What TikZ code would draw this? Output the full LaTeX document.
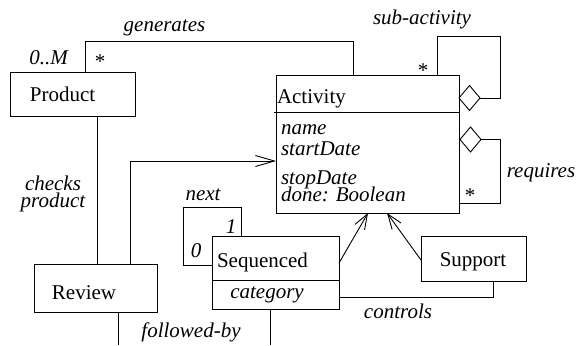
\documentclass[tikz,border=0pt]{standalone}
\usepackage{fontspec}
\setmainfont{Liberation Serif}
\usetikzlibrary{shapes.geometric,arrows.meta}
\begin{document}
% keep the fixed baseline distance of stacked lines even when glyphs touch
\lineskiplimit=-30pt
\begin{tikzpicture}[x=1pt,y=-1pt,
  line width=0.9pt,
  every node/.style={font=\fontsize{21}{24}\selectfont, inner sep=0pt, outer sep=0pt},
  classbox/.style={draw, anchor=north west, minimum width=#1},
  lbl/.style={anchor=base, font=\fontsize{21}{24}\selectfont\itshape},
  txt/.style={anchor=base},
  attr/.style={anchor=base west, align=left, font=\fontsize{21}{#1}\selectfont\itshape},
  agg/.style={draw, fill=white, diamond, aspect=0.85, minimum width=21pt, minimum height=25pt},
  navarrow/.style={-{Straight Barb[length=19pt,width=11pt,line width=0.9pt]}},
  genarrow/.style={-{Straight Barb[length=15pt,width=11pt,line width=0.9pt]}}
]
\useasboundingbox (0,0) rectangle (577,345);

% class boxes
\node[classbox=125pt, minimum height=44pt] (product) at (10,72) {};
\node[classbox=123pt, minimum height=48pt] (review) at (34,264) {};
\node[classbox=183pt, minimum height=138pt] (activity) at (276,75) {};
\node[classbox=127pt, minimum height=73pt] (seq) at (212,236) {};
\node[classbox=105pt, minimum height=45pt] (support) at (421,236) {};

% compartment lines
\draw (274,112) -- (activity.east |- 0,112);
\draw (seq.west |- 0,280) -- (seq.east |- 0,280);

% class names and attributes (multi-line nodes sit on their last baseline)
\node[txt] (tproduct) at (62.5,101) {Product};
\node[txt] (treview) at (84,299) {Review};
\node[anchor=base west] (tactivity) at (277,103) {Activity};
\node[attr=21pt] (adates) at (281,155) {name\\startDate};
\node[attr=17pt] (astop) at (281,201) {stopDate\\done: Boolean};
\node[anchor=base west] (tseq) at (217,267) {Sequenced};
\node[lbl] (acat) at (267,298) {category};
\node[txt] (tsupport) at (473,266) {Support};

% aggregation diamonds
\node[agg] (dsub) at (469.5,98) {};
\node[agg] (dreq) at (470.5,139.5) {};

% generates
\draw (85,0 |- product.north) |- (353,41) -- (353,0 |- activity.north);
\node[lbl] (lgen) at (164.5,32) {generates};
\node[lbl] (lzm) at (48.5,64) {0..M};
\node[txt] (lstar1) at (100,68) {*};

% sub-activity
\draw (437,0 |- activity.north) |- (500,36) |- (dsub.east);
\node[lbl] (lsub) at (422,25) {sub-activity};
\node[txt] (lstar2) at (423,77) {*};

% requires
\draw (dreq.east) -| (500,203) -- (activity.east |- 0,203);
\node[lbl] (lreq) at (541,177) {requires};
\node[txt] (lstar3) at (470,202) {*};

% checks product
\draw (97,0 |- product.south) -- (97,0 |- review.north);
\node[anchor=base, align=center, font=\fontsize{21}{16.5}\selectfont\itshape] (lchk) at (53,207) {checks\\product};

% review navigates to activity
\draw[navarrow] (130,0 |- review.north) |- (activity.west |- 0,161);

% next
\draw (241,0 |- seq.north) |- (183,207) |- (seq.west |- 0,265);
\node[lbl] (lnext) at (203,200) {next};
\node[lbl] (lone) at (231,233) {1};
\node[lbl] (lzero) at (196,257) {0};

% generalisation
\draw[genarrow] (seq.east |- 0,263) -- (368,0 |- activity.south);
\draw[genarrow] (support.west |- 0,260) -- (387,0 |- activity.south);

% controls
\draw (493,0 |- support.south) |- (seq.east |- 0,297);
\node[lbl] (lctl) at (398,318) {controls};

% followed-by
\coordinate (fbleft) at (118,345);
\coordinate (fbright) at (270,345);
\draw (fbleft |- review.south) -- (fbleft);
\draw (fbright |- seq.south) -- (fbright);
\node[lbl] (lfol) at (191,337) {followed-by};
\end{tikzpicture}
\end{document}
